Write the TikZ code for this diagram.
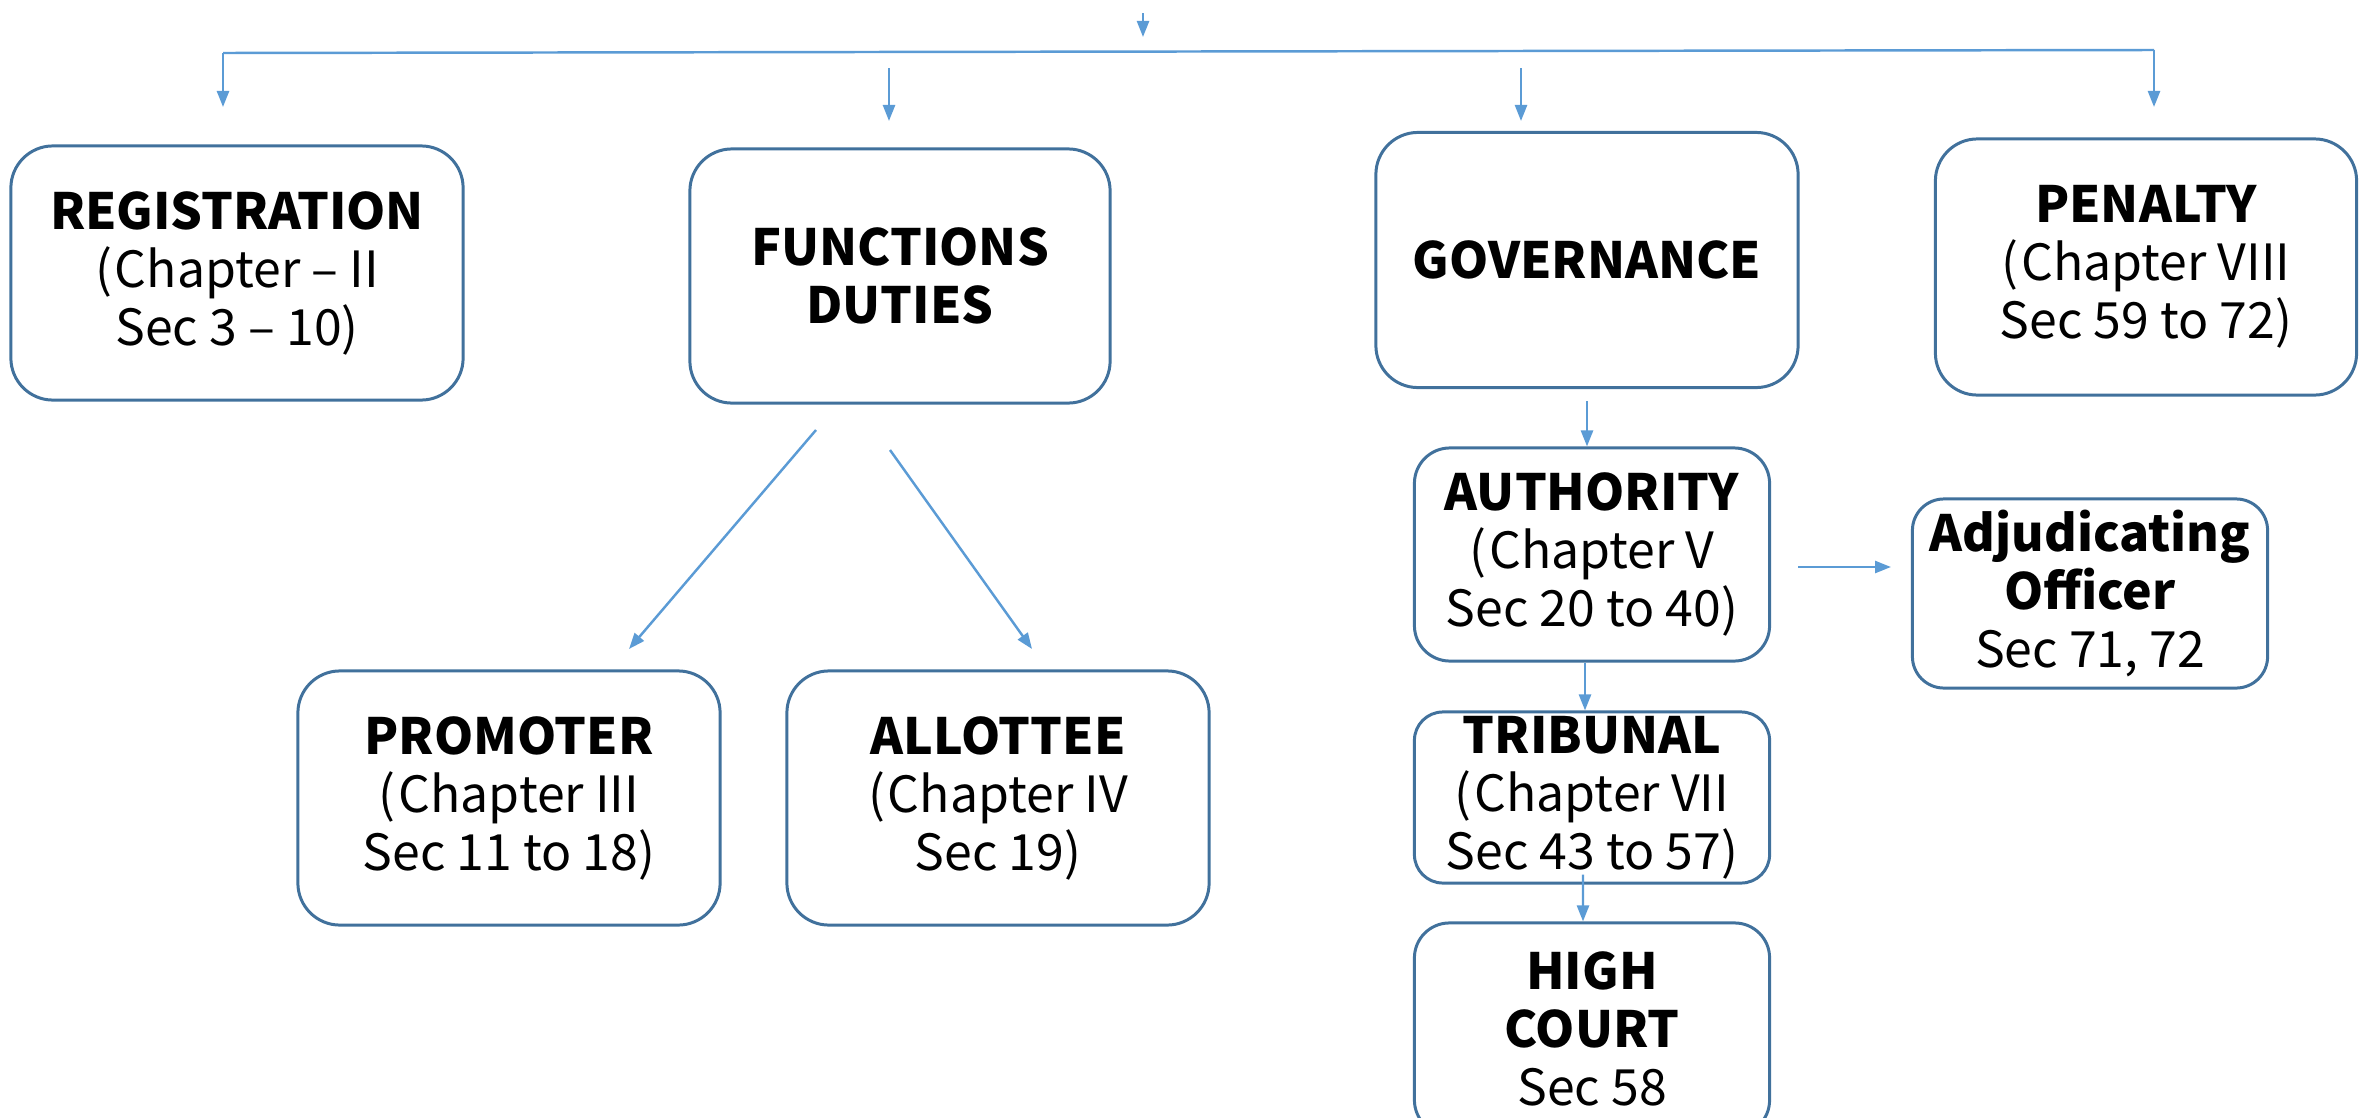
\documentclass[tikz,border=0pt]{standalone}
\usepackage{fontspec}
\setmainfont{Noto Sans CJK JP}
\usetikzlibrary{arrows.meta,calc}
\definecolor{boxline}{HTML}{41719C}
\definecolor{arrowblue}{HTML}{5B9BD5}
\newcommand{\opar}{(\hspace{0.06em}}
\begin{document}
\begin{tikzpicture}[x=0.01cm,y=-0.01cm,
  box/.style={draw=boxline,line width=0.85pt,fill=white,align=center,inner sep=0pt,
    font=\fontsize{14.2}{16.5}\selectfont},
  arr/.style={draw=arrowblue,line width=0.7pt,-{Triangle[length=0.16cm,width=0.12cm]}},
  link/.style={draw=arrowblue,line width=0.7pt}]
\useasboundingbox (0,0) rectangle (2366,1118);
\clip (0,0) rectangle (2366,1118);

% top row
\node[box,minimum width=4.52cm,minimum height=2.54cm,rounded corners=0.42cm] (reg) at (237,273)
  {\textbf{REGISTRATION}\\\opar Chapter – II\\Sec 3 – 10)};
\node[box,minimum width=4.20cm,minimum height=2.54cm,rounded corners=0.42cm] (func) at (900,276)
  {\textbf{FUNCTIONS}\\\textbf{DUTIES}};
\node[box,minimum width=4.22cm,minimum height=2.55cm,rounded corners=0.42cm] (gov) at (1587,260)
  {\textbf{GOVERNANCE}};
\node[box,minimum width=4.21cm,minimum height=2.56cm,rounded corners=0.42cm] (pen) at (2146,267)
  {\textbf{PENALTY}\\\opar Chapter VIII\\Sec 59 to 72)};

% parties
\node[box,minimum width=4.22cm,minimum height=2.54cm,rounded corners=0.42cm] (prom) at (509,798)
  {\textbf{PROMOTER}\\\opar Chapter III\\Sec 11 to 18)};
\node[box,minimum width=4.22cm,minimum height=2.54cm,rounded corners=0.42cm] (allot) at (998,798)
  {\textbf{ALLOTTEE}\\\opar Chapter IV\\Sec 19)};

% governance chain
\node[box,minimum width=3.55cm,minimum height=2.13cm,rounded corners=0.355cm] (auth) at (1592,554.5)
  {\textbf{AUTHORITY}\\\opar Chapter V\\Sec 20 to 40)};
\node[box,minimum width=3.55cm,minimum height=1.89cm,rounded corners=0.315cm] (adj) at (2090,593.5)
  {\textbf{Adjudicating}\\\textbf{Officer}\\Sec 71, 72};
\node[box,minimum width=3.55cm,minimum height=1.71cm,rounded corners=0.285cm] (trib) at (1592,797.5)
  {\textbf{TRIBUNAL}\\\opar Chapter VII\\Sec 43 to 57)};
\node[box,minimum width=3.55cm,minimum height=2.12cm,rounded corners=0.35cm] (hc) at (1592,1029)
  {\textbf{HIGH}\\\textbf{COURT}\\Sec 58};

% free ends of the connectors
\coordinate (topA) at (1143,13);
\coordinate (topB) at (1143,37);
\coordinate (barL) at (223,53);
\coordinate (barR) at (2154,50);
\coordinate (regIn) at (223,107);
\coordinate (penIn) at (2154,107);
\coordinate (funcA) at (889,68);
\coordinate (funcB) at (889,121);
\coordinate (govA) at (1521,68);
\coordinate (govB) at (1521,121);
\coordinate (splitL) at (816,430);
\coordinate (promIn) at (629,649);
\coordinate (splitR) at (890,450);
\coordinate (allotIn) at (1032,649);
\coordinate (authOut) at (1798,567);
\coordinate (adjIn) at (1891,567);

% distribution bar
\draw[arr] (topA) -- (topB);
\draw[link] (barL) -- (barR);
\draw[arr] (barL) -- (regIn);
\draw[arr] (barR) -- (penIn);
\draw[arr] (funcA) -- (funcB);
\draw[arr] (govA) -- (govB);

% functions split
\draw[arr] (splitL) -- (promIn);
\draw[arr] (splitR) -- (allotIn);

% governance chain
\draw[arr] ([yshift=-0.12cm]gov.south) -- (gov.south |- auth.north);
\draw[arr] ([xshift=-0.07cm]auth.south) -- ([xshift=-0.07cm]trib.north);
\draw[arr] ([shift={(-9,-10)}]trib.south) -- ([xshift=-0.09cm]hc.north);
\draw[arr] (authOut) -- (adjIn);
\end{tikzpicture}
\end{document}
